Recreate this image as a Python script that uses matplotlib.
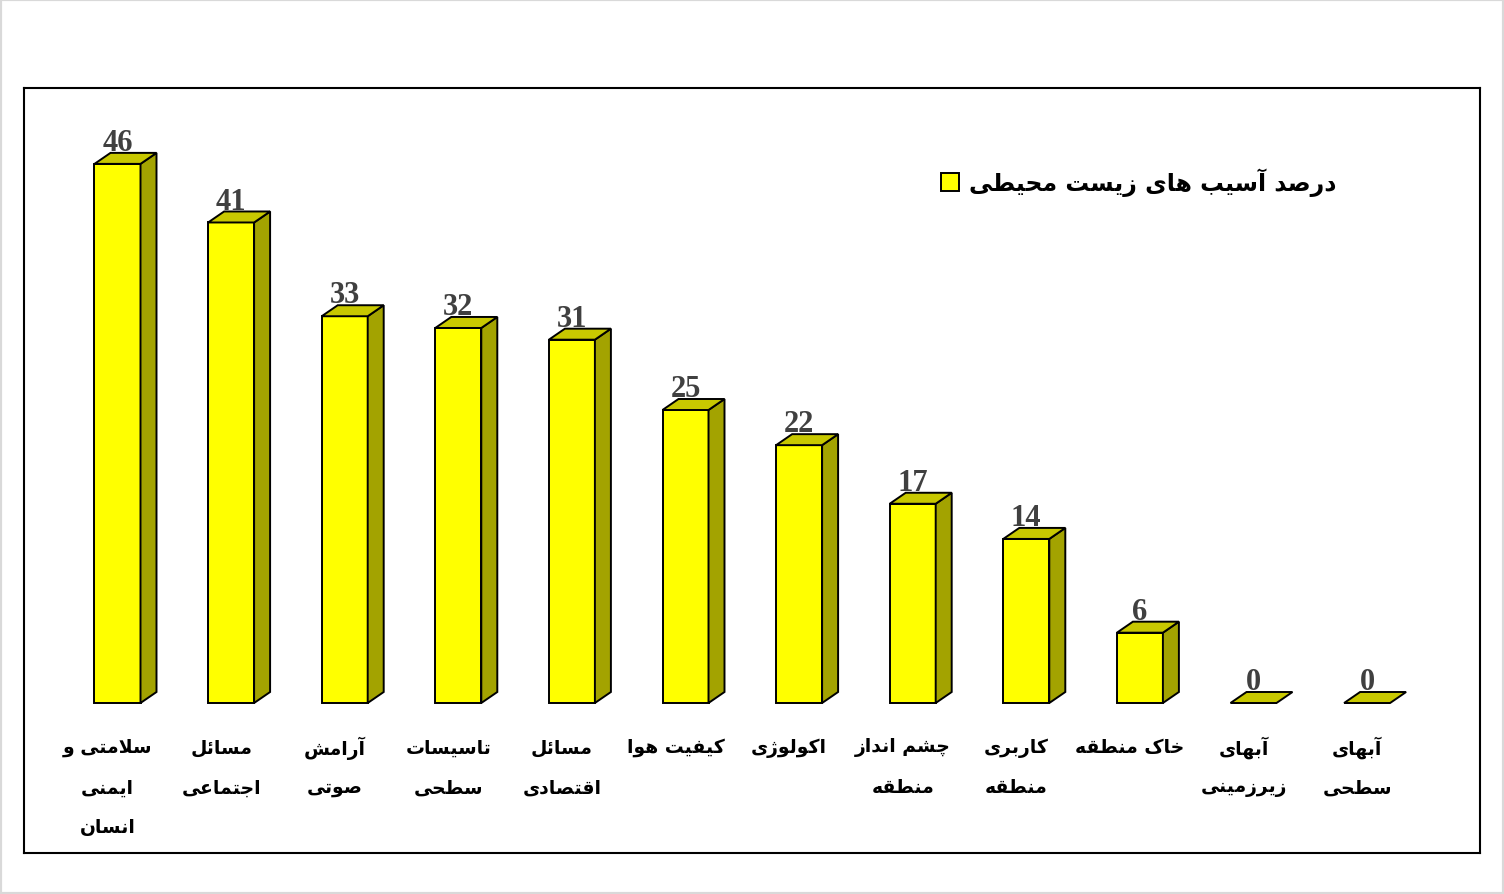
import matplotlib
matplotlib.use("Agg")
import matplotlib.pyplot as plt
from matplotlib.patches import Polygon, Rectangle, Patch

# data
categories = [["سلامتی و", "ایمنی", "انسان"], ["مسائل", "اجتماعی"], ["آرامش", "صوتی"],
              ["تاسیسات", "سطحی"], ["مسائل", "اقتصادی"], ["کیفیت هوا"], ["اکولوژی"],
              ["چشم انداز", "منطقه"], ["کاربری", "منطقه"], ["خاک منطقه"],
              ["آبهای", "زیرزمینی"], ["آبهای", "سطحی"]]
values = [46, 41, 33, 32, 31, 25, 22, 17, 14, 6, 0, 0]
series_name = "درصد آسیب های زیست محیطی"

# persian shaping (matplotlib has no bidi / joining support)
FORMS = {
    'ا': ('\uFE8D', '\uFE8E', None, None), 'آ': ('\uFE81', '\uFE82', None, None),
    'د': ('\uFEA9', '\uFEAA', None, None), 'ذ': ('\uFEAB', '\uFEAC', None, None),
    'ر': ('\uFEAD', '\uFEAE', None, None), 'ز': ('\uFEAF', '\uFEB0', None, None),
    'ژ': ('\uFB8A', '\uFB8B', None, None), 'و': ('\uFEED', '\uFEEE', None, None),
    'ب': ('\uFE8F', '\uFE90', '\uFE91', '\uFE92'), 'پ': ('\uFB56', '\uFB57', '\uFB58', '\uFB59'),
    'ت': ('\uFE95', '\uFE96', '\uFE97', '\uFE98'), 'ث': ('\uFE99', '\uFE9A', '\uFE9B', '\uFE9C'),
    'ج': ('\uFE9D', '\uFE9E', '\uFE9F', '\uFEA0'), 'چ': ('\uFB7A', '\uFB7B', '\uFB7C', '\uFB7D'),
    'ح': ('\uFEA1', '\uFEA2', '\uFEA3', '\uFEA4'), 'خ': ('\uFEA5', '\uFEA6', '\uFEA7', '\uFEA8'),
    'س': ('\uFEB1', '\uFEB2', '\uFEB3', '\uFEB4'), 'ش': ('\uFEB5', '\uFEB6', '\uFEB7', '\uFEB8'),
    'ص': ('\uFEB9', '\uFEBA', '\uFEBB', '\uFEBC'), 'ض': ('\uFEBD', '\uFEBE', '\uFEBF', '\uFEC0'),
    'ط': ('\uFEC1', '\uFEC2', '\uFEC3', '\uFEC4'), 'ظ': ('\uFEC5', '\uFEC6', '\uFEC7', '\uFEC8'),
    'ع': ('\uFEC9', '\uFECA', '\uFECB', '\uFECC'), 'غ': ('\uFECD', '\uFECE', '\uFECF', '\uFED0'),
    'ف': ('\uFED1', '\uFED2', '\uFED3', '\uFED4'), 'ق': ('\uFED5', '\uFED6', '\uFED7', '\uFED8'),
    'ک': ('\uFB8E', '\uFB8F', '\uFB90', '\uFB91'), 'گ': ('\uFB92', '\uFB93', '\uFB94', '\uFB95'),
    'ل': ('\uFEDD', '\uFEDE', '\uFEDF', '\uFEE0'), 'م': ('\uFEE1', '\uFEE2', '\uFEE3', '\uFEE4'),
    'ن': ('\uFEE5', '\uFEE6', '\uFEE7', '\uFEE8'), 'ه': ('\uFEE9', '\uFEEA', '\uFEEB', '\uFEEC'),
    'ی': ('\uFBFC', '\uFBFD', '\uFBFE', '\uFBFF'), 'ئ': ('\uFE89', '\uFE8A', '\uFE8B', '\uFE8C'),
}
LAM_ALEF = {'ا': ('\uFEFB', '\uFEFC'), 'آ': ('\uFEF5', '\uFEF6')}


def dual(c):
    return c in FORMS and FORMS[c][2] is not None


def fa(text):
    out = []
    i = 0
    n = len(text)
    while i < n:
        c = text[i]
        prev = text[i - 1] if i > 0 else ' '
        nxt = text[i + 1] if i + 1 < n else ' '
        if c not in FORMS:
            out.append(c)
            i += 1
            continue
        con_prev = dual(prev)
        if c == 'ل' and nxt in LAM_ALEF:
            out.append(LAM_ALEF[nxt][1 if con_prev else 0])
            i += 2
            continue
        con_next = dual(c) and nxt in FORMS
        f = FORMS[c]
        if con_prev and con_next:
            out.append(f[3])
        elif con_prev:
            out.append(f[1])
        elif con_next:
            out.append(f[2])
        else:
            out.append(f[0])
        i += 1
    return ''.join(reversed(out))


W, H = 1504, 895
fig = plt.figure(figsize=(W / 100, H / 100), dpi=100)
fig.patch.set_facecolor('white')
fig.add_artist(Rectangle((0, 0), 1, 1, transform=fig.transFigure, fill=False,
                         edgecolor='#d9d9d9', lw=3))

# axes = inner black frame
fl, fr, ft, fb = 24, 1480, 89, 854
ax = fig.add_axes([fl / W, 1 - fb / H, (fr - fl) / W, (fb - ft) / H])
for s in ax.spines.values():
    s.set_linewidth(1.5)
    s.set_color('black')
ax.set_xticks([])
ax.set_yticks([])

step = 113.6          # px per category
ppu = 11.72           # px per unit
x0 = 117.5            # px centre of first bar
base = 704            # px baseline
ax.set_xlim((fl - x0) / step, (fr - x0) / step)
ax.set_ylim((base - fb) / ppu, (base - ft) / ppu)

w = 46 / step
dx = 16 / step
dy = 11 / ppu

front = '#ffff00'
top_c = '#c8c800'
side_c = '#a3a300'
elw = 1.4

xs = list(range(len(values)))
ax.bar(xs, values, width=w, color=front, edgecolor='black', lw=elw, zorder=2)
for x, v in zip(xs, values):
    l, r = x - w / 2, x + w / 2
    if v > 0:
        ax.add_patch(Polygon([(r, 0), (r + dx, dy), (r + dx, v + dy), (r, v)],
                             closed=True, facecolor=side_c, edgecolor='black', lw=elw, zorder=2))
    ax.add_patch(Polygon([(l, v), (r, v), (r + dx, v + dy), (l + dx, v + dy)],
                         closed=True, facecolor=top_c, edgecolor='black', lw=elw, zorder=3))
    ax.text(x, v + dy + 0.25, str(v), ha='center', va='baseline', fontsize=22,
            fontweight='bold', family='Liberation Serif', color='#404040', zorder=4)

# category labels
line_y = [(base - 748) / ppu, (base - 788) / ppu, (base - 828) / ppu]
for x, lines in zip(xs, categories):
    for k, line in enumerate(lines):
        ax.text(x - 10 / step, line_y[k], fa(line), ha='center', va='center',
                fontsize=13.5, fontweight='bold', family='DejaVu Sans', color='black')

leg = ax.legend(handles=[Patch(facecolor=front, edgecolor='black', lw=elw)],
                labels=[fa(series_name)], frameon=False, loc='center left',
                bbox_to_anchor=(941 / W, 1 - 183 / H), bbox_transform=fig.transFigure,
                borderpad=0, borderaxespad=0, handlelength=0.75, handleheight=0.75,
                handletextpad=0.45, prop={'family': 'DejaVu Sans', 'weight': 'bold', 'size': 17})

fig.savefig('out.png', dpi=100)
